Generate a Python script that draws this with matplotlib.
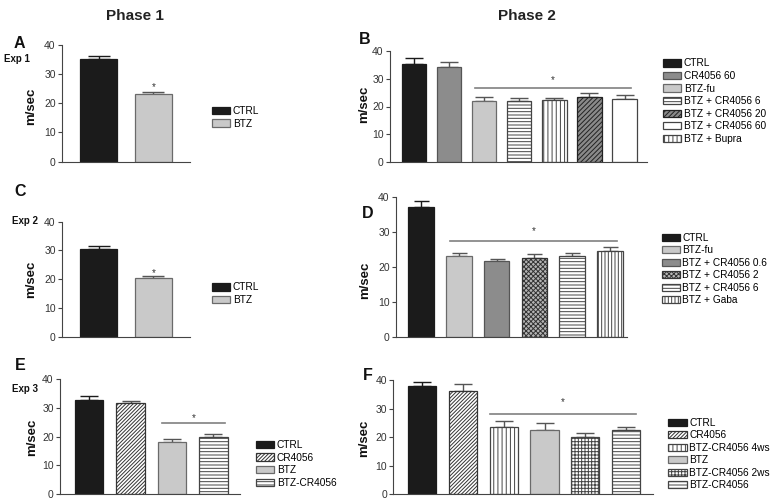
import matplotlib
matplotlib.use("Agg")
import matplotlib.pyplot as plt
from matplotlib.patches import Patch
from matplotlib import font_manager as fm

# ---------------- data ----------------
a_labels = ["CTRL", "BTZ"]
a_values = [35.1, 23.0]
a_errors = [1.2, 0.9]

b_labels = ["CTRL", "CR4056 60", "BTZ-fu", "BTZ + CR4056 6", "BTZ + Bupra", "BTZ + CR4056 20", "BTZ + CR4056 60"]
b_values = [35.1, 34.0, 22.0, 22.0, 22.3, 23.3, 22.6]
b_errors = [2.2, 2.1, 1.5, 1.2, 0.9, 1.7, 1.4]
b_legend_order = ["CTRL", "CR4056 60", "BTZ-fu", "BTZ + CR4056 6", "BTZ + CR4056 20", "BTZ + CR4056 60", "BTZ + Bupra"]

c_labels = ["CTRL", "BTZ"]
c_values = [30.4, 20.5]
c_errors = [1.3, 0.5]

d_labels = ["CTRL", "BTZ-fu", "BTZ + CR4056 0.6", "BTZ + CR4056 2", "BTZ + CR4056 6", "BTZ + Gaba"]
d_values = [37.0, 23.0, 21.5, 22.4, 23.0, 24.5]
d_errors = [1.7, 0.8, 0.7, 1.1, 0.8, 1.1]

e_labels = ["CTRL", "CR4056", "BTZ", "BTZ-CR4056"]
e_values = [32.7, 31.6, 18.3, 20.0]
e_errors = [1.5, 0.8, 0.9, 1.0]

f_labels = ["CTRL", "CR4056", "BTZ-CR4056 4ws", "BTZ", "BTZ-CR4056 2ws", "BTZ-CR4056"]
f_values = [37.9, 36.2, 23.4, 22.5, 20.0, 22.5]
f_errors = [1.5, 2.3, 2.2, 2.6, 1.6, 1.2]

yticks = [0, 10, 20, 30, 40]
ylabel = "m/sec"

# ---------------- styles ----------------
BLACK = dict(facecolor="#1b1b1b", edgecolor="#1b1b1b", hatch=None)
DARK = dict(facecolor="#8c8c8c", edgecolor="#555555", hatch=None)
LIGHT = dict(facecolor="#c9c9c9", edgecolor="#6a6a6a", hatch=None)
WHITE = dict(facecolor="white", edgecolor="#444444", hatch=None)
HORIZ = dict(facecolor="white", edgecolor="#444444", hatch="-----")
VERT = dict(facecolor="white", edgecolor="#444444", hatch="||||")
VERT2 = dict(facecolor="white", edgecolor="#444444", hatch="|||||")
DIAG_DARK = dict(facecolor="#8a8a8a", edgecolor="#222222", hatch="///////")
DIAG = dict(facecolor="white", edgecolor="#333333", hatch="/////////")
CHECK = dict(facecolor="#b5b5b5", edgecolor="#333333", hatch="xxxxxxx")
GRID = dict(facecolor="white", edgecolor="#444444", hatch="+++++")

a_styles = {"CTRL": BLACK, "BTZ": LIGHT}
b_styles = {"CTRL": BLACK, "CR4056 60": DARK, "BTZ-fu": LIGHT, "BTZ + CR4056 6": HORIZ,
            "BTZ + Bupra": VERT, "BTZ + CR4056 20": DIAG_DARK, "BTZ + CR4056 60": WHITE}
d_styles = {"CTRL": BLACK, "BTZ-fu": LIGHT, "BTZ + CR4056 0.6": DARK, "BTZ + CR4056 2": CHECK,
            "BTZ + CR4056 6": HORIZ, "BTZ + Gaba": VERT2}
e_styles = {"CTRL": BLACK, "CR4056": DIAG, "BTZ": LIGHT, "BTZ-CR4056": HORIZ}
f_styles = {"CTRL": BLACK, "CR4056": DIAG, "BTZ-CR4056 4ws": VERT, "BTZ": LIGHT,
            "BTZ-CR4056 2ws": GRID, "BTZ-CR4056": HORIZ}

# ---------------- fonts ----------------
names = {f.name for f in fm.fontManager.ttflist}
base = "Liberation Sans" if "Liberation Sans" in names else "DejaVu Sans"
narrow = "Liberation Sans Narrow" if "Liberation Sans Narrow" in names else None
plt.rcParams["font.family"] = [base, "DejaVu Sans"]
plt.rcParams["hatch.linewidth"] = 0.7

W, H = 774, 503
fig = plt.figure(figsize=(W / 100, H / 100), dpi=100)


def rect(l, r, t, b):
    return [l / W, 1 - b / H, (r - l) / W, (b - t) / H]


def panel(r, labels, values, errors, styles, xlim, width, capsize,
          legend_xy, legend_order=None, star=None, line=None):
    ax = fig.add_axes(rect(*r))
    x = list(range(len(labels)))
    for i, lab in enumerate(labels):
        st = styles[lab]
        ax.bar(x[i], values[i], width=width, facecolor=st["facecolor"],
               edgecolor=st["edgecolor"], hatch=st["hatch"], linewidth=0.9, zorder=2)
        ecol = "#1b1b1b" if st is BLACK else "#555555"
        ax.errorbar(x[i], values[i], yerr=[[0], [errors[i]]], fmt="none",
                    ecolor=ecol, elinewidth=1.0, capsize=capsize, capthick=1.0, zorder=1)
    ax.set_xlim(*xlim)
    ax.set_ylim(0, 40)
    ax.set_yticks(yticks)
    ax.set_xticks([])
    for s in ["top", "right"]:
        ax.spines[s].set_visible(False)
    for s in ["left", "bottom"]:
        ax.spines[s].set_color("#444444")
        ax.spines[s].set_linewidth(0.8)
    ax.tick_params(axis="y", direction="out", length=3, width=0.8, color="#444444",
                   labelsize=7.5, labelcolor="#333333", pad=1.5)
    if line is not None:
        x0, x1, ly, sy = line
        ax.plot([x0, x1], [ly, ly], color="#808080", linewidth=1.2, zorder=3)
        ax.text((x0 + x1) / 2, sy, "*", ha="center", va="center", fontsize=7, color="#333333")
    if star is not None:
        sx, sy = star
        ax.text(sx, sy, "*", ha="center", va="center", fontsize=7, color="#333333")
    order = legend_order if legend_order is not None else labels
    handles = [Patch(facecolor=styles[l]["facecolor"], edgecolor=styles[l]["edgecolor"],
                     hatch=styles[l]["hatch"], linewidth=0.9) for l in order]
    ax.legend(handles, order, loc="upper left",
              bbox_to_anchor=(legend_xy[0] / W, 1 - legend_xy[1] / H),
              bbox_transform=fig.transFigure, frameon=False, borderpad=0,
              borderaxespad=0, handlelength=1.8, handleheight=0.7,
              handletextpad=0.25, labelspacing=0.25, fontsize=7.3)
    return ax


panel((62, 190, 44.7, 161.7), a_labels, a_values, a_errors, a_styles,
      (-0.665, 1.665), 0.67, 7.9, (212, 106), star=(1, 25.6))
panel((390, 647, 50.7, 162.3), b_labels, b_values, b_errors, b_styles,
      (-0.68, 6.64), 0.70, 6.2, (663, 58.5), legend_order=b_legend_order,
      line=(1.74, 6.18, 26.8, 29.5))
panel((62, 190, 221.7, 336.7), c_labels, c_values, c_errors, a_styles,
      (-0.665, 1.665), 0.67, 7.9, (212, 282.5), star=(1, 22.2))
panel((396, 626.7, 196.7, 336.7), d_labels, d_values, d_errors, d_styles,
      (-0.67, 5.45), 0.68, 5.4, (661.7, 232.8), line=(0.77, 5.18, 27.4, 30.1))
panel((60, 240, 379, 494.3), e_labels, e_values, e_errors, e_styles,
      (-0.705, 3.645), 0.69, 6.6, (256, 440), line=(1.76, 3.28, 24.6, 26.6))
panel((393.3, 653, 380, 494.3), f_labels, f_values, f_errors, f_styles,
      (-0.715, 5.665), 0.69, 6.6, (668.3, 417.8), line=(1.67, 5.25, 28.0, 32.2))

# ---------------- texts ----------------
def ftxt(x, y, s, **kw):
    fig.text(x / W, 1 - y / H, s, **kw)

title_kw = dict(fontsize=12.5 if narrow else 11, fontweight="bold", ha="center", va="center",
                color="#222222")
if narrow:
    title_kw["family"] = [narrow, base]
ftxt(135, 16, "Phase 1", **title_kw)
ftxt(527, 16, "Phase 2", **title_kw)

letter_kw = dict(fontsize=11.5, fontweight="bold", ha="center", va="center", color="#111111")
for (x, y, s) in [(19.5, 43, "A"), (365, 40, "B"), (20, 191, "C"),
                  (368, 213, "D"), (20, 366, "E"), (368, 376, "F")]:
    ftxt(x, y, s, **letter_kw)

exp_kw = dict(fontsize=7, fontweight="bold", ha="center", va="center", color="#111111")
ftxt(16.7, 59.5, "Exp 1", **exp_kw)
ftxt(24.5, 221.5, "Exp 2", **exp_kw)
ftxt(25, 389, "Exp 3", **exp_kw)

yl_kw = dict(fontsize=11 if narrow else 9.5, fontweight="bold", ha="center", va="center",
             rotation=90, color="#111111")
if narrow:
    yl_kw["family"] = [narrow, base]
for (x, y) in [(31.5, 106), (364.5, 104), (31.5, 279), (365.5, 280), (32, 437), (364, 438)]:
    ftxt(x, y, ylabel, **yl_kw)

fig.savefig("out.png", dpi=100)
